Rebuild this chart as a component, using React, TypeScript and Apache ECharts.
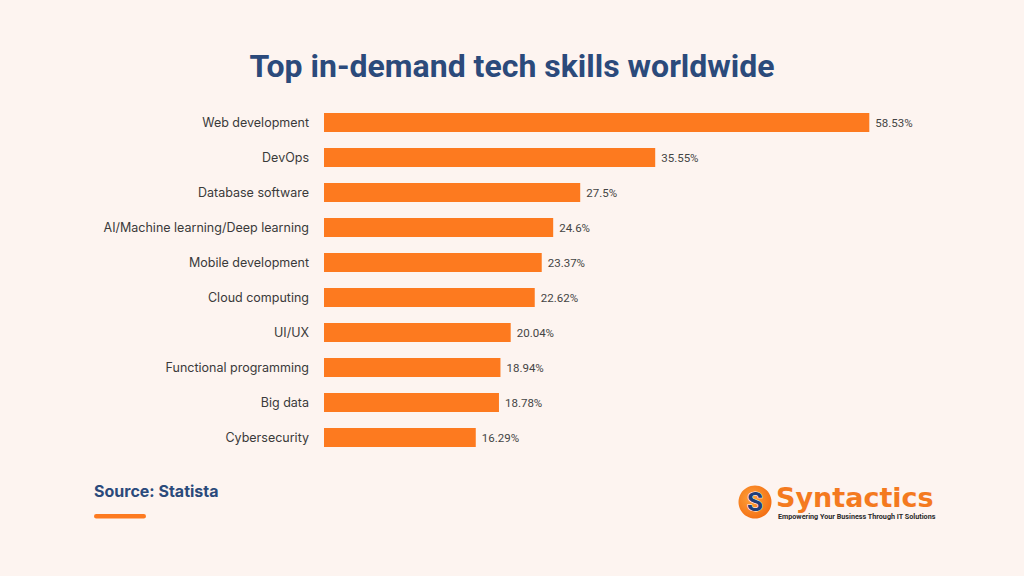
import React, { useEffect, useRef } from "react";
import * as echarts from "echarts";

const categories = [
  "Web development",
  "DevOps",
  "Database software",
  "AI/Machine learning/Deep learning",
  "Mobile development",
  "Cloud computing",
  "UI/UX",
  "Functional programming",
  "Big data",
  "Cybersecurity",
];
const values = [58.53, 35.55, 27.5, 24.6, 23.37, 22.62, 20.04, 18.94, 18.78, 16.29];
const titleText = "Top in-demand tech skills worldwide";
const sourceText = "Source: Statista";
const brandText = "Syntactics";
const taglineText = "Empowering Your Business Through IT Solutions";

export default function App() {
  const ref = useRef<HTMLDivElement>(null);
  useEffect(() => {
    document.body.style.margin = "0";
    const chart = echarts.init(ref.current!, null, { renderer: "svg" });
    chart.setOption({
      animation: false,
      backgroundColor: "#FDF4F0",
      title: {
        text: titleText,
        left: "center",
        top: 45,
        textStyle: {
          fontFamily: "Roboto",
          fontWeight: "bold",
          fontSize: 32,
          color: "#2B4A7B",
        },
      },
      grid: { left: 324, right: 141, top: 105, bottom: 121 },
      xAxis: {
        type: "value",
        min: 0,
        max: 60,
        show: false,
      },
      yAxis: {
        type: "category",
        data: categories,
        inverse: true,
        axisLine: { show: false },
        axisTick: { show: false },
        splitLine: { show: false },
        axisLabel: {
          margin: 15,
          fontFamily: "Inter",
          fontSize: 12.5,
          color: "#3A3A3A",
        },
      },
      series: [
        {
          type: "bar",
          data: values,
          barWidth: 19,
          itemStyle: { color: "#FD7A1F" },
          label: {
            show: true,
            position: "right",
            distance: 6,
            fontFamily: "Roboto",
            fontSize: 11.5,
            color: "#444444",
            formatter: (p: any) => p.value + "%",
          },
        },
      ],
      graphic: [
        {
          type: "text",
          left: 94,
          top: 483,
          style: {
            text: sourceText,
            fontFamily: "Inter",
            fontWeight: "bold",
            fontSize: 16,
            fill: "#2B4A7B",
          },
        },
        {
          type: "rect",
          shape: { x: 94, y: 514, width: 52, height: 4.5, r: 2.2 },
          style: { fill: "#FD7A20" },
        },
        {
          type: "circle",
          shape: { cx: 755, cy: 502, r: 16.5 },
          style: {
            fill: new echarts.graphic.RadialGradient(0.4, 0.4, 0.7, [
              { offset: 0, color: "#FFA33A" },
              { offset: 1, color: "#F26A10" },
            ]),
          },
        },
        {
          type: "text",
          x: 755,
          y: 502,
          style: {
            text: "S",
            fontFamily: "Roboto",
            fontWeight: "bold",
            fontSize: 26,
            fill: "#1F3F7A",
            align: "center",
            verticalAlign: "middle",
            stroke: "#FFFFFF",
            lineWidth: 1,
          },
        },
        {
          type: "text",
          x: 776,
          y: 497,
          style: {
            text: brandText,
            fontFamily: "DejaVu Sans",
            fontWeight: "bold",
            fontSize: 27,
            fill: "#F47A1F",
            verticalAlign: "middle",
          },
        },
        {
          type: "text",
          x: 778,
          y: 516,
          style: {
            text: taglineText,
            fontFamily: "Roboto",
            fontWeight: "bold",
            fontSize: 7.2,
            fill: "#2A2A2A",
            verticalAlign: "middle",
          },
        },
      ],
    });
    return () => chart.dispose();
  }, []);
  return <div ref={ref} style={{ width: 1024, height: 576 }} />;
}
